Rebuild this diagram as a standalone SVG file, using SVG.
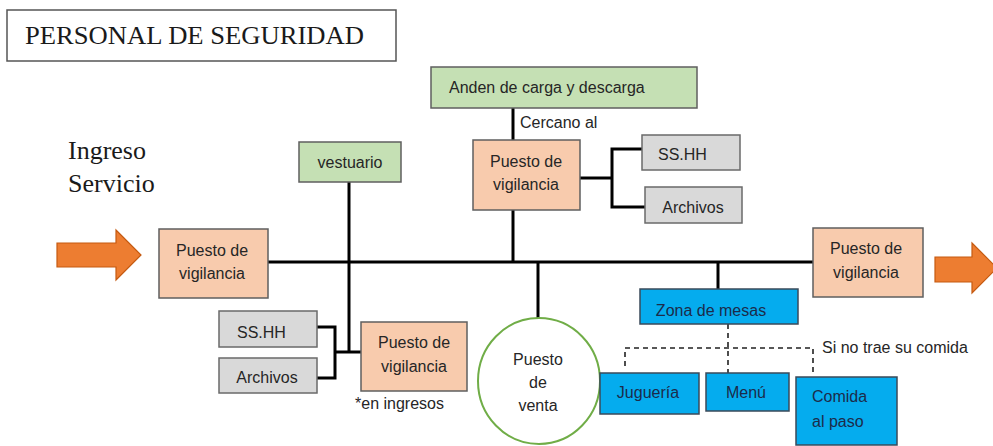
<svg xmlns="http://www.w3.org/2000/svg" width="993" height="446" viewBox="0 0 993 446">
<style>
.t{font-family:"Liberation Sans",Arial,sans-serif;font-size:16px;fill:#262626}
.tb{font-family:"Liberation Sans",Arial,sans-serif;font-size:16px;fill:#1c2b4a}
.serif{font-family:"Liberation Serif","Times New Roman",serif;font-size:26px;fill:#1a1a1a}
.peach{fill:#F8CBAD;stroke:#5f5f5f;stroke-width:1.5}
.green{fill:#C5E0B4;stroke:#5f5f5f;stroke-width:1.5}
.gray{fill:#D9D9D9;stroke:#6a6a6a;stroke-width:1.5}
.blue{fill:#05ACEE;stroke:#3a4a5a;stroke-width:1.5}
.arrow{fill:#ED7D31;stroke:#C55A11;stroke-width:1.2}
.ln{stroke:#000;stroke-width:3;fill:none}
.dash{stroke:#222;stroke-width:1.6;fill:none;stroke-dasharray:5 4}
.c{text-anchor:middle}
</style>
<g id="title">
<rect x="7" y="10" width="389" height="51" fill="#fff" stroke="#555" stroke-width="1.5"/>
<text class="serif" x="25" y="44" textLength="339" lengthAdjust="spacingAndGlyphs">PERSONAL DE SEGURIDAD</text>
</g>
<g id="ingreso-label">
<text class="serif" x="68" y="159">Ingreso</text>
<text class="serif" x="68" y="192">Servicio</text>
</g>
<g id="connectors">
<line class="ln" x1="268" y1="262" x2="814" y2="262"/>
<line class="ln" x1="513" y1="108" x2="513" y2="140"/>
<line class="ln" x1="513" y1="210" x2="513" y2="262"/>
<line class="ln" x1="580" y1="178" x2="612" y2="178"/>
<polyline class="ln" points="642,149 612,149 612,207 645,207"/>
<line class="ln" x1="349" y1="182" x2="349" y2="352"/>
<line class="ln" x1="335" y1="352" x2="361" y2="352"/>
<polyline class="ln" points="317,327 335,327 335,378 317,378"/>
<line class="ln" x1="538" y1="262" x2="538" y2="318"/>
<line class="ln" x1="718" y1="262" x2="718" y2="289"/>
<line class="dash" x1="728" y1="324" x2="728" y2="373"/>
<polyline class="dash" points="625,366 625,348 813,348 813,376"/>
</g>
<g id="arrow-in"><polygon class="arrow" points="57,243 116,243 116,230 141,255 116,280 116,267 57,267"/></g>
<g id="arrow-out"><polygon class="arrow" points="935,257 972,257 972,243 997,268 972,293 972,282 935,282"/></g>
<g id="anden">
<rect class="green" x="431" y="67" width="266" height="41"/>
<text class="t" x="449" y="93">Anden de carga y descarga</text>
</g>
<g id="cercano-label"><text class="t" x="520" y="128">Cercano al</text></g>
<g id="puesto-top">
<rect class="peach" x="473" y="140" width="107" height="70"/>
<text class="t c" x="526" y="167">Puesto de</text>
<text class="t c" x="526" y="190">vigilancia</text>
</g>
<g id="sshh-top">
<rect class="gray" x="642" y="135" width="98" height="35"/>
<text class="t" x="658" y="160">SS.HH</text>
</g>
<g id="archivos-top">
<rect class="gray" x="645" y="187" width="97" height="36"/>
<text class="t c" x="693" y="213">Archivos</text>
</g>
<g id="vestuario">
<rect class="green" x="299" y="142" width="102" height="40"/>
<text class="t c" x="350" y="168">vestuario</text>
</g>
<g id="puesto-left">
<rect class="peach" x="159" y="229" width="109" height="69"/>
<text class="t c" x="212" y="256">Puesto de</text>
<text class="t c" x="212" y="279">vigilancia</text>
</g>
<g id="sshh-low">
<rect class="gray" x="219" y="311" width="98" height="36"/>
<text class="t" x="237" y="338">SS.HH</text>
</g>
<g id="archivos-low">
<rect class="gray" x="219" y="358" width="98" height="35"/>
<text class="t c" x="267" y="383">Archivos</text>
</g>
<g id="puesto-low">
<rect class="peach" x="361" y="322" width="106" height="69"/>
<text class="t c" x="414" y="348">Puesto de</text>
<text class="t c" x="414" y="372">vigilancia</text>
<text class="t" x="355" y="409">*en ingresos</text>
</g>
<g id="puesto-venta">
<ellipse cx="539" cy="381" rx="61" ry="63" fill="#fff" stroke="#70AD47" stroke-width="2"/>
<text class="t c" x="538" y="365">Puesto</text>
<text class="t c" x="538" y="388">de</text>
<text class="t c" x="538" y="411">venta</text>
</g>
<g id="puesto-right">
<rect class="peach" x="813" y="228" width="110" height="69"/>
<text class="t c" x="866" y="254">Puesto de</text>
<text class="t c" x="866" y="278">vigilancia</text>
</g>
<g id="zona-mesas">
<rect class="blue" x="640" y="289" width="158" height="35"/>
<text class="tb c" x="711" y="316">Zona de mesas</text>
</g>
<g id="si-no-label"><text class="t" x="822" y="353">Si no trae su comida</text></g>
<g id="jugueria">
<rect class="blue" x="600" y="373" width="99" height="41"/>
<text class="tb c" x="648" y="398">Juguería</text>
</g>
<g id="menu">
<rect class="blue" x="706" y="373" width="83" height="38"/>
<text class="tb c" x="746" y="398">Menú</text>
</g>
<g id="comida-paso">
<rect class="blue" x="796" y="377" width="101" height="68"/>
<text class="tb" x="812" y="402">Comida</text>
<text class="tb" x="812" y="427">al paso</text>
</g>
</svg>
